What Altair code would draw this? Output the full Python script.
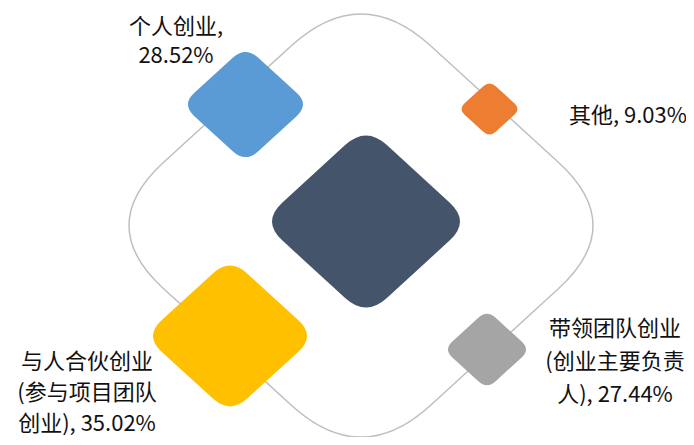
import altair as alt
import pandas as pd

# ---- data ----
categories = ["个人创业", "其他", "带领团队创业(创业主要负责人)", "与人合伙创业(参与项目团队创业)"]
values = [28.52, 9.03, 27.44, 35.02]
colors = ["#5B9BD5", "#ED7D31", "#A5A5A5", "#FFC000"]

# ---- layout (image pixel coordinates) ----
diamond_cx = [245.5, 489.5, 487.0, 230.0]
diamond_cy = [104.5, 109.0, 349.5, 336.0]
diamond_w = [115, 56, 78, 154]
center_diamond = dict(cx=366.0, cy=221.5, w=188, color="#44546A")
outline = dict(cx=361.0, cy=225.5, w=464)
label_breaks = [[5], [], [6, 13], [6, 13]]          # character positions where label wraps
label_cx = [176, 628, 615, 87]
label_y0 = [27, 116, 329, 362]
label_lh = [29, 32, 33, 31]

W, H = 678, 429


def rounded_diamond(t, k):
    s = 1.0 / (1.0 - 0.5 * t)
    V = [(0.0, -s * k), (s, 0.0), (0.0, s * k), (-s, 0.0)]
    parts = []
    n = len(V)
    for i in range(n):
        v = V[i]
        p = V[i - 1]
        nx = V[(i + 1) % n]
        a = (v[0] + t * (p[0] - v[0]), v[1] + t * (p[1] - v[1]))
        b = (v[0] + t * (nx[0] - v[0]), v[1] + t * (nx[1] - v[1]))
        parts.append(("M" if i == 0 else "L") + f"{a[0]:.4f},{a[1]:.4f}")
        parts.append(f"Q{v[0]:.4f},{v[1]:.4f} {b[0]:.4f},{b[1]:.4f}")
    return " ".join(parts) + " Z"


small_path = rounded_diamond(0.2, 0.915)
outline_path = rounded_diamond(0.26, 0.912)

diam_rows = [dict(x=center_diamond["cx"], y=center_diamond["cy"],
                  size=center_diamond["w"] ** 2, color=center_diamond["color"])]
for i in range(len(categories)):
    diam_rows.append(dict(x=diamond_cx[i], y=diamond_cy[i],
                          size=diamond_w[i] ** 2, color=colors[i]))
diam_df = pd.DataFrame(diam_rows)

outline_df = pd.DataFrame([dict(x=outline["cx"], y=outline["cy"], size=outline["w"] ** 2)])

text_rows = []
for i, (c, v) in enumerate(zip(categories, values)):
    full = f"{c}, {v:.2f}%"
    cuts = [0] + label_breaks[i] + [len(full)]
    lines = [full[cuts[j]:cuts[j + 1]].strip() for j in range(len(cuts) - 1)]
    for j, ln in enumerate(lines):
        text_rows.append(dict(x=label_cx[i], y=label_y0[i] + j * label_lh[i], text=ln))
text_df = pd.DataFrame(text_rows)

xs = alt.Scale(domain=[8, 8 + W])
ys = alt.Scale(domain=[8, 8 + H], reverse=True)

outline_layer = alt.Chart(outline_df).mark_point(
    shape=outline_path, filled=False, color="#BFBFBF", strokeWidth=1.5, opacity=1
).encode(
    x=alt.X("x:Q", scale=xs, axis=None),
    y=alt.Y("y:Q", scale=ys, axis=None),
    size=alt.Size("size:Q", scale=None, legend=None),
)

diamond_layer = alt.Chart(diam_df).mark_point(
    shape=small_path, filled=True, opacity=1, strokeWidth=0
).encode(
    x=alt.X("x:Q", scale=xs, axis=None),
    y=alt.Y("y:Q", scale=ys, axis=None),
    size=alt.Size("size:Q", scale=None, legend=None),
    color=alt.Color("color:N", scale=None, legend=None),
)

text_layer = alt.Chart(text_df).mark_text(
    font="Noto Sans CJK SC", fontSize=22, color="#111111",
    align="center", baseline="middle"
).encode(
    x=alt.X("x:Q", scale=xs, axis=None),
    y=alt.Y("y:Q", scale=ys, axis=None),
    text="text:N",
)

chart = alt.layer(outline_layer, diamond_layer, text_layer).properties(
    width=W, height=H, padding=0,
    autosize=alt.AutoSizeParams(type="none"),
).configure_view(stroke=None)

chart.save("out.html", embed_options={"renderer": "svg", "actions": False})
